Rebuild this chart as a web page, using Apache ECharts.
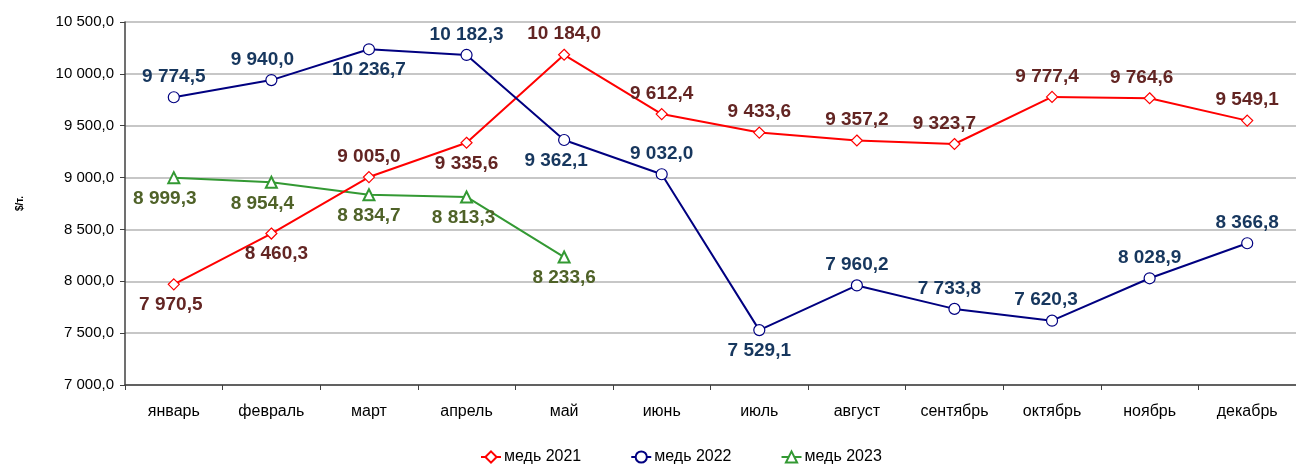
<!DOCTYPE html>
<html><head><meta charset="utf-8">
<script src="https://cdn.jsdelivr.net/npm/echarts@6/dist/echarts.min.js"></script>
<style>html,body{margin:0;padding:0;background:#fff}#c{width:1296px;height:466px}</style>
</head><body><div id="c"></div>
<script>
const months = ['январь','февраль','март','апрель','май','июнь','июль','август','сентябрь','октябрь','ноябрь','декабрь'];
const copper2021 = [7970.5, 8460.3, 9005.0, 9335.6, 10184.0, 9612.4, 9433.6, 9357.2, 9323.7, 9777.4, 9764.6, 9549.1];
const copper2022 = [9774.5, 9940.0, 10236.7, 10182.3, 9362.1, 9032.0, 7529.1, 7960.2, 7733.8, 7620.3, 8028.9, 8366.8];
const copper2023 = [8999.3, 8954.4, 8834.7, 8813.3, 8233.6];
const seriesNames = ['медь 2021','медь 2022','медь 2023'];

// label placement (style only): 't' = above, 'b' = below, with x shift
const pos2021 = ['b','b','t','b','t','t','t','t','t','t','t','t'];
const dx2021  = [-3,5,0,0,0,0,0,0,-10,-5,-8,0];
const pos2022 = ['t','t','b','t','b','t','b','t','t','t','t','t'];
const dx2022  = [0,-9,0,0,-8,0,0,0,-5,-6,0,0];
const pos2023 = ['b','b','b','b','b'];
const dx2023  = [-9,-9,0,-3,0];

function fmt(v){
  const s = v.toFixed(1).split('.');
  return s[0].replace(/\B(?=(\d{3})+(?!\d))/g,' ') + ',' + s[1];
}
function build(vals,pos,dx,color){
  return vals.map((v,i)=>({value:v,label:{position:pos[i]==='t'?'top':'bottom',offset:[dx[i],0],color:color}}));
}
const lblBase = {show:true,fontFamily:'Liberation Sans',fontWeight:'bold',fontSize:19,distance:5,formatter:p=>fmt(p.value)};

const chart = echarts.init(document.getElementById('c'));
chart.setOption({
  animation:false,
  textStyle:{fontFamily:'Liberation Sans'},
  grid:{left:125,right:0,top:22,bottom:81},
  legend:{top:449,left:480,padding:0,itemGap:49,itemWidth:20,itemHeight:14,
    textStyle:{fontSize:16,color:'#000',padding:[0,0,0,-2]},data:seriesNames},
  xAxis:{type:'category',data:months,boundaryGap:true,
    axisLine:{lineStyle:{color:'#404040',width:1.5}},
    axisTick:{show:true,length:5,lineStyle:{color:'#404040'}},
    axisLabel:{color:'#000',fontSize:16,margin:19}},
  yAxis:{type:'value',min:7000,max:10500,interval:500,
    name:'$/т.',nameLocation:'middle',nameGap:100,nameRotate:90,
    nameTextStyle:{fontSize:10,fontWeight:'bold',color:'#000'},
    axisLine:{show:true,lineStyle:{color:'#404040',width:1.5}},
    axisTick:{show:true,length:5,lineStyle:{color:'#404040'}},
    axisLabel:{color:'#000',fontSize:15,margin:11,formatter:v=>fmt(v)},
    splitLine:{lineStyle:{color:'#b4b4b4',width:1.5}}},
  series:[
    {name:seriesNames[0],type:'line',data:build(copper2021,pos2021,dx2021,'#632523'),
      symbol:'diamond',symbolSize:11,itemStyle:{color:'#fff',borderColor:'#ff0000',borderWidth:1.2},
      lineStyle:{color:'#ff0000',width:2},label:lblBase,z:3},
    {name:seriesNames[1],type:'line',data:build(copper2022,pos2022,dx2022,'#17375e'),
      symbol:'circle',symbolSize:11,itemStyle:{color:'#fff',borderColor:'#000080',borderWidth:1.2},
      lineStyle:{color:'#000080',width:2},label:lblBase,z:4},
    {name:seriesNames[2],type:'line',data:build(copper2023,pos2023,dx2023,'#4f6228'),
      symbol:'triangle',symbolSize:11,itemStyle:{color:'#fff',borderColor:'#339933',borderWidth:2},
      lineStyle:{color:'#339933',width:2},label:lblBase,z:2}
  ]
});
</script></body></html>
